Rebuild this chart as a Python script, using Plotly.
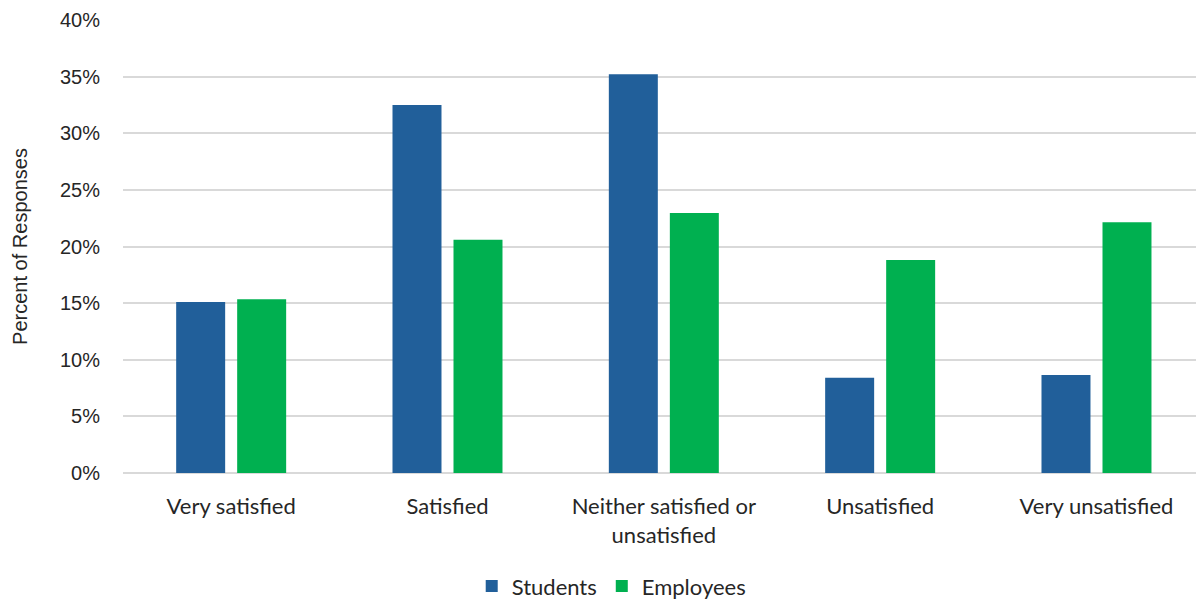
import plotly.graph_objects as go

categories = ["Very satisfied", "Satisfied", "Neither satisfied or<br>unsatisfied",
              "Unsatisfied", "Very unsatisfied"]
students = [15.1, 32.5, 35.2, 8.4, 8.65]
employees = [15.35, 20.6, 22.95, 18.8, 22.15]

tick_vals = [0, 5, 10, 15, 20, 25, 30, 35, 40]
tick_text = [f"{v}%" for v in tick_vals]

fig = go.Figure()
fig.add_trace(go.Bar(name="Students", x=categories, y=students,
                     marker=dict(color="#215F9A", line=dict(width=0))))
fig.add_trace(go.Bar(name="Employees", x=categories, y=employees,
                     marker=dict(color="#00B050", line=dict(width=0))))

fig.update_layout(
    width=1196, height=600,
    margin=dict(l=123, r=0, t=20, b=127, autoexpand=False),
    paper_bgcolor="white", plot_bgcolor="white",
    barmode="group", bargap=0.436, bargroupgap=0.197,
    font=dict(family="Liberation Sans, Arial, sans-serif", size=20, color="#262626"),
    legend=dict(orientation="h", x=0.455, xanchor="center", y=-0.25, yanchor="middle",
                font=dict(family="Lato, sans-serif", size=22, color="#262626"),
                itemwidth=30, traceorder="normal"),
    showlegend=True,
)
# the last category sits slightly past the right edge of the plot area
fig.update_xaxes(range=[-0.5, 4.46], showgrid=False, showline=False, ticks="",
                 automargin=False, ticklabelstandoff=18,
                 tickfont=dict(family="Lato, sans-serif", size=22, color="#262626"))
fig.update_yaxes(range=[0, 40], tickvals=tick_vals, ticktext=tick_text,
                 showgrid=True, gridcolor="#D9D9D9", gridwidth=1.5,
                 zeroline=True, zerolinecolor="#D9D9D9", zerolinewidth=1.5,
                 showline=False, ticks="", ticklabelstandoff=22, automargin=False,
                 tickfont=dict(size=20, color="#262626"),
                 title=dict(text="Percent of Responses", standoff=26,
                            font=dict(size=20, color="#262626")))

fig.write_html("out.html")
